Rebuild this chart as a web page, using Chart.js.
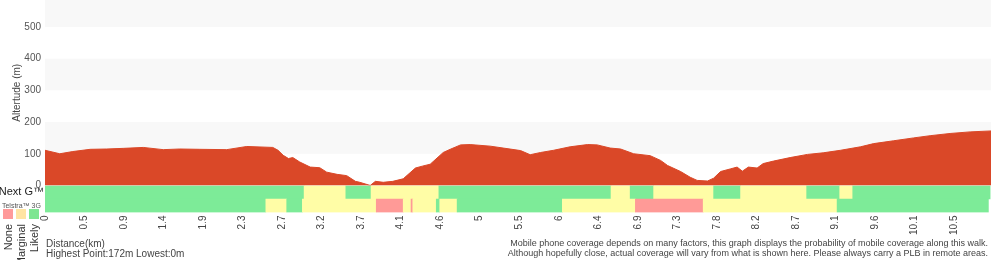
<!DOCTYPE html>
<html>
<head>
<meta charset="utf-8">
<script src="https://cdn.jsdelivr.net/npm/chart.js@4/dist/chart.umd.min.js"></script>
<style>
  body { margin: 0; background: #fff; font-family: "Liberation Sans", Arial, sans-serif; }
  #wrap { position: relative; width: 1000px; height: 260px; overflow: hidden; }
  canvas { position: absolute; left: 0; top: 0; }
  .note { position: absolute; white-space: nowrap; color: #444; }
  .sq { position: absolute; width: 10px; height: 10px; top: 209px; }
  .vlab { position: absolute; top: 224px; font-size: 11px; line-height: 11px; color: #333;
          white-space: nowrap; transform-origin: top left; transform: rotate(-90deg) translateX(-100%); }
</style>
</head>
<body>
<div id="wrap">
  <canvas id="grafico" width="1000" height="260"></canvas>
  <div class="note" style="left:46px; top:238px; font-size:10px;">Distance(km)</div>
  <div class="note" style="left:46px; top:248px; font-size:10px;">Highest Point:172m Lowest:0m</div>
  <div class="note" style="right:12px; top:238px; font-size:9px; text-align:right; line-height:10px;">Mobile phone coverage depends on many factors, this graph displays the probability of mobile coverage along this walk.<br>Although hopefully close, actual coverage will vary from what is shown here. Please always carry a PLB in remote areas.</div>
  <div id="legenda"></div>
</div>
<script>
// perfil de altitude (km, m)
const distKm = [0, 0.17, 0.32, 0.52, 0.71, 0.90, 1.13, 1.36, 1.55, 1.78, 2.09, 2.32, 2.62, 2.68, 2.74, 2.80, 2.85, 2.93,
  3.05, 3.16, 3.24, 3.36, 3.47, 3.57, 3.62, 3.74, 3.80, 3.89, 4.00, 4.12, 4.26, 4.34, 4.43, 4.58, 4.66, 4.78, 4.89,
  5.12, 5.27, 5.47, 5.58, 5.70, 5.85, 6.04, 6.24, 6.35, 6.50, 6.62, 6.77, 6.96, 7.08, 7.16, 7.31, 7.42, 7.50, 7.62,
  7.69, 7.77, 7.88, 7.96, 8.02, 8.09, 8.19, 8.26, 8.38, 8.57, 8.77, 8.95, 9.15, 9.38, 9.53, 9.76, 9.99, 10.18,
  10.41, 10.64, 10.88];
const altitudeM = [111, 100, 107, 114, 115, 117, 120, 113, 115, 114, 113, 123, 120, 111, 95, 85, 88, 74,
  58, 56, 42, 35, 31, 13, 10, 0, 13, 10, 13, 21, 55, 61, 67, 104, 114, 128, 129,
  124, 118, 110, 97, 104, 111, 122, 129, 128, 118, 115, 100, 94, 79, 63, 44, 26, 16, 14,
  23, 44, 52, 58, 45, 58, 55, 69, 77, 88, 98, 103, 111, 122, 132, 141, 150, 157,
  164, 169, 172];

// rótulos do eixo x
const tickLabels = ["0", "0.5", "0.9", "1.4", "1.9", "2.3", "2.7", "3.2", "3.7", "4.1", "4.6", "5", "5.5", "6",
  "6.4", "6.9", "7.3", "7.8", "8.2", "8.7", "9.1", "9.6", "10.1", "10.5"];
const TICK_STEP = 10 / 22;
const X_MAX = 10.88;

// cobertura
const rows = ["Next G™", "Telstra™ 3G"];
const levelNames = ["None", "Marginal", "Likely"];
const nextGEdges = [0, 2.98, 3.46, 3.75, 4.53, 6.51, 6.73, 7.00, 7.69, 8.00, 8.76, 9.14, 9.29, 10.87];
const nextGLevels = ["Likely", "Marginal", "Likely", "Marginal", "Likely", "Marginal", "Likely", "Marginal",
  "Likely", "Marginal", "Likely", "Marginal", "Likely"];
const telstra3GEdges = [0, 2.54, 2.78, 2.96, 3.81, 4.12, 4.21, 4.23, 4.50, 4.54, 4.74, 5.95, 6.79, 7.57, 9.11, 10.85];
const telstra3GLevels = ["Likely", "Marginal", "Likely", "Marginal", "None", "Marginal", "None", "Marginal",
  "Likely", "Marginal", "Likely", "Marginal", "None", "Marginal", "Likely"];

const corFaixa = { None: "#ff9a97", Marginal: "#fffda6", Likely: "#7deb98" };
const corLegenda = { None: "#ff9a9a", Marginal: "#ffe4a3", Likely: "#7ee692" };

// legenda lateral
const legenda = document.getElementById("legenda");
levelNames.forEach((nome, i) => {
  const sq = document.createElement("div");
  sq.className = "sq";
  sq.style.left = (3 + i * 13) + "px";
  sq.style.background = corLegenda[nome];
  legenda.appendChild(sq);
  const lab = document.createElement("div");
  lab.className = "vlab";
  lab.style.left = (3 + i * 13) + "px";
  lab.textContent = nome;
  legenda.appendChild(lab);
});

// monta barras flutuantes
const barras = [];
const coresBarras = [];
function addLinha(rotulo, edges, levels) {
  levels.forEach((lv, i) => {
    barras.push({ x: [edges[i], edges[i + 1]], y: rotulo });
    coresBarras.push(corFaixa[lv]);
  });
}
addLinha(rows[0], nextGEdges, nextGLevels);
addLinha(rows[1], telstra3GEdges, telstra3GLevels);

const perfil = distKm.map((d, i) => ({ x: d, y: altitudeM[i] }));

const faixas = {
  id: "faixas",
  beforeDatasetsDraw(chart) {
    const y = chart.scales.y;
    const { left, right } = chart.chartArea;
    const ctx = chart.ctx;
    ctx.save();
    ctx.fillStyle = "#f8f8f8";
    for (let v = 100; v < y.max; v += 200) {
      const top = y.getPixelForValue(Math.min(v + 100, y.max));
      const bot = y.getPixelForValue(v);
      ctx.fillRect(left, top, right - left, bot - top);
    }
    ctx.restore();
  },
};

// eixo lateral com largura fixa e sem folga extra em cima/baixo
function fixaLargura(s) {
  s.width = 45;
  s.paddingTop = 0;
  s.paddingBottom = 0;
}

Chart.defaults.font.family = '"Liberation Sans", Arial, sans-serif';

new Chart(document.getElementById("grafico"), {
  type: "line",
  data: {
    datasets: [
      {
        label: "Altitude",
        data: perfil,
        xAxisID: "x",
        yAxisID: "y",
        borderColor: "#da4828",
        backgroundColor: "#da4828",
        borderWidth: 1,
        pointRadius: 0,
        fill: "origin",
        tension: 0,
      },
      {
        type: "bar",
        label: "Cobertura",
        data: barras,
        indexAxis: "y",
        xAxisID: "x",
        yAxisID: "cov",
        backgroundColor: coresBarras,
        borderWidth: 0,
        barPercentage: 1,
        categoryPercentage: 1,
      },
    ],
  },
  options: {
    responsive: false,
    animation: false,
    layout: { padding: { left: 0, right: 9, top: 0, bottom: 22 } },
    plugins: { legend: { display: false }, tooltip: { enabled: false } },
    scales: {
      x: {
        type: "linear",
        min: 0,
        max: X_MAX,
        grid: { display: false, drawTicks: false },
        border: { display: false },
        afterBuildTicks: (s) => { s.ticks = tickLabels.map((l, i) => ({ value: i * TICK_STEP })); },
        ticks: {
          autoSkip: false,
          minRotation: 90,
          maxRotation: 90,
          padding: 3,
          color: "#444",
          font: { size: 10 },
          callback: (v, i) => tickLabels[i],
        },
      },
      cov: {
        type: "category",
        labels: rows,
        position: "left",
        stack: "left",
        stackWeight: 27,
        offset: true,
        grid: { display: false, drawTicks: false },
        border: { display: false },
        afterFit: fixaLargura,
        ticks: {
          autoSkip: false,
          crossAlign: "center",
          padding: 1,
          color: (c) => (c.index === 0 ? "#222" : "#555"),
          font: (c) => (c.index === 0 ? { size: 11 } : { size: 7 }),
        },
      },
      y: {
        type: "linear",
        position: "left",
        stack: "left",
        stackWeight: 185,
        min: 0,
        max: 585,
        grid: { display: false, drawTicks: false },
        border: { display: false },
        afterBuildTicks: (s) => { s.ticks = s.ticks.filter((t) => t.value % 100 === 0); },
        afterFit: fixaLargura,
        ticks: { stepSize: 100, padding: 4, color: "#555", font: { size: 10 } },
        title: { display: true, text: "Altertude (m)", color: "#444", font: { size: 10 }, padding: { top: 11, bottom: 0 } },
      },
    },
  },
  plugins: [faixas],
});
</script>
</body>
</html>
